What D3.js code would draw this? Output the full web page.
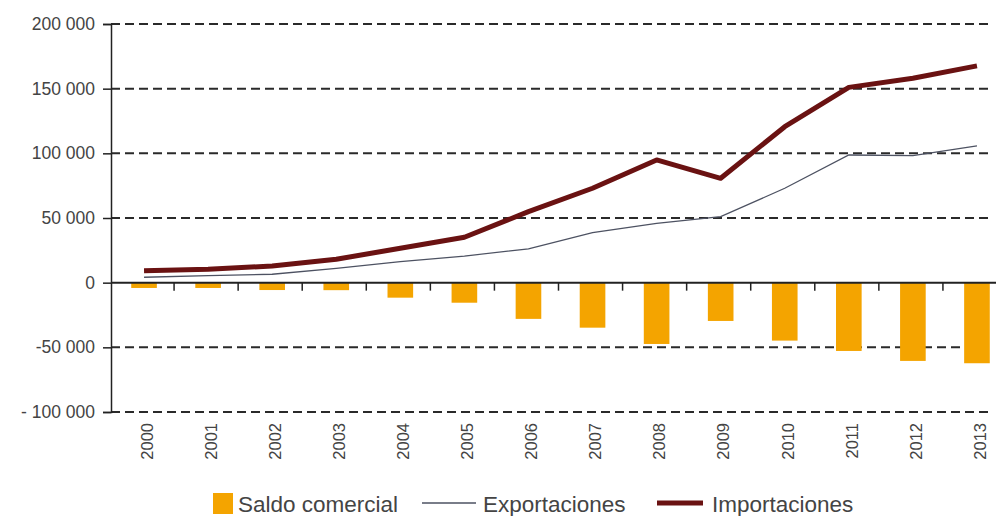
<!DOCTYPE html>
<html>
<head>
<meta charset="utf-8">
<script src="https://cdn.jsdelivr.net/npm/d3@7"></script>
<style>
    body { margin: 0; background: #fff; }
    text { font-family: "Liberation Sans", Arial, sans-serif; fill: #444; }
</style>
</head>
<body>
<svg id="vis-svg"></svg>
<script>
// data
const years = ["2000", "2001", "2002", "2003", "2004", "2005", "2006", "2007", "2008", "2009", "2010", "2011", "2012", "2013"];
const saldo = [-4100, -4100, -5700, -5800, -11600, -15500, -28000, -34800, -47400, -29600, -44800, -52800, -60500, -62300];
const exportaciones = [4200, 5400, 6500, 11100, 16200, 20600, 26200, 38700, 45900, 51000, 73000, 98700, 98200, 105700];
const importaciones = [9300, 10300, 12900, 18100, 26600, 35100, 54900, 73000, 94900, 80700, 120600, 151000, 158000, 167600];
const yTicks = [200000, 150000, 100000, 50000, 0, -50000, -100000];
const yTickLabels = ["200 000", "150 000", "100 000", "50 000", "0", "-50 000", "- 100 000"];

let svg = d3.select("#vis-svg")
    .attr("width", 996)
    .attr("height", 516);

let xScale = d3.scaleBand()
    .domain(years)
    .range([110, 1007])
    .paddingInner(0.6)
    .paddingOuter(0.3);

let yScale = d3.scaleLinear()
    .domain([-100000, 200000])
    .range([412, 24]);

let xCenter = d => xScale(d) + xScale.bandwidth() / 2;

// dashed gridlines (not on zero)
svg.append("g")
    .selectAll("line")
    .data(yTicks.filter(d => d !== 0))
    .enter()
        .append("line")
        .attr("x1", 111)
        .attr("x2", 993)
        .attr("y1", d => yScale(d))
        .attr("y2", d => yScale(d))
        .attr("stroke", "#2a2a2a")
        .attr("stroke-width", 2)
        .attr("stroke-dasharray", "9,5");

// bars
svg.append("g")
    .selectAll("rect")
    .data(saldo)
    .enter()
        .append("rect")
        .attr("x", (d, i) => xScale(years[i]) + 2)
        .attr("y", d => yScale(Math.max(0, d)))
        .attr("width", xScale.bandwidth())
        .attr("height", d => Math.abs(yScale(d) - yScale(0)))
        .style("fill", "#f4a400");

// y axis
let yAxis = d3.axisLeft()
    .scale(yScale)
    .tickValues(yTicks)
    .tickSize(8)
    .tickPadding(8)
    .tickFormat((d, i) => yTickLabels[i]);

let yG = svg.append("g")
    .attr("class", "yAxis")
    .attr("transform", `translate(${111}, 0)`)
    .call(yAxis);
yG.select(".domain").attr("stroke", "#222").attr("stroke-width", 1.5);
yG.selectAll(".tick line").attr("stroke", "#222").attr("stroke-width", 1.5);
yG.selectAll(".tick text")
    .style("font-size", "17.5px")
    .style("font-family", "Liberation Sans, Arial, sans-serif")
    .attr("fill", "#444");

// x axis on zero line
let xAxis = d3.axisBottom()
    .scale(xScale)
    .tickSize(0)
    .tickFormat("");

let xG = svg.append("g")
    .attr("class", "xAxis")
    .attr("transform", `translate(0, ${yScale(0)})`)
    .call(xAxis);
xG.select(".domain").attr("stroke", "#222").attr("stroke-width", 2).attr("d", "M111,0H996");
xG.selectAll(".tick").remove();

// small ticks between the years
svg.append("g")
    .selectAll("line")
    .data(years.slice(1))
    .enter()
        .append("line")
        .attr("x1", d => xScale(d) - xScale.step() * xScale.paddingInner() / 2)
        .attr("x2", d => xScale(d) - xScale.step() * xScale.paddingInner() / 2)
        .attr("y1", yScale(0))
        .attr("y2", yScale(0) + 8)
        .attr("stroke", "#222")
        .attr("stroke-width", 1.5);

// year labels, rotated
svg.append("g")
    .selectAll("text")
    .data(years)
    .enter()
        .append("text")
        .attr("transform", d => `translate(${xCenter(d) + 5}, ${423}) rotate(-90)`)
        .attr("text-anchor", "end")
        .attr("dy", "0.35em")
        .style("font-size", "16.5px")
        .text(d => d);

// lines
let line = data => d3.line()
    .x((d, i) => xCenter(years[i]) + 2)
    .y(d => yScale(d))(data);

svg.append("path")
    .attr("d", line(exportaciones))
    .attr("fill", "none")
    .attr("stroke", "#4d5262")
    .attr("stroke-width", 1.3);

svg.append("path")
    .attr("d", line(importaciones))
    .attr("fill", "none")
    .attr("stroke", "#6a1212")
    .attr("stroke-width", 5)
    .attr("stroke-linejoin", "round");

// legend
let legend = svg.append("g").style("font-size", "22.5px");
legend.append("rect")
    .attr("x", 213).attr("y", 493)
    .attr("width", 20).attr("height", 21)
    .style("fill", "#f4a400");
legend.append("text").attr("x", 238).attr("y", 512).text("Saldo comercial");
legend.append("line")
    .attr("x1", 422).attr("x2", 476).attr("y1", 503).attr("y2", 503)
    .attr("stroke", "#4d5262").attr("stroke-width", 1.3);
legend.append("text").attr("x", 483).attr("y", 512).text("Exportaciones");
legend.append("line")
    .attr("x1", 657).attr("x2", 703).attr("y1", 503).attr("y2", 503)
    .attr("stroke", "#6a1212").attr("stroke-width", 5);
legend.append("text").attr("x", 712).attr("y", 512).text("Importaciones");
</script>
</body>
</html>
